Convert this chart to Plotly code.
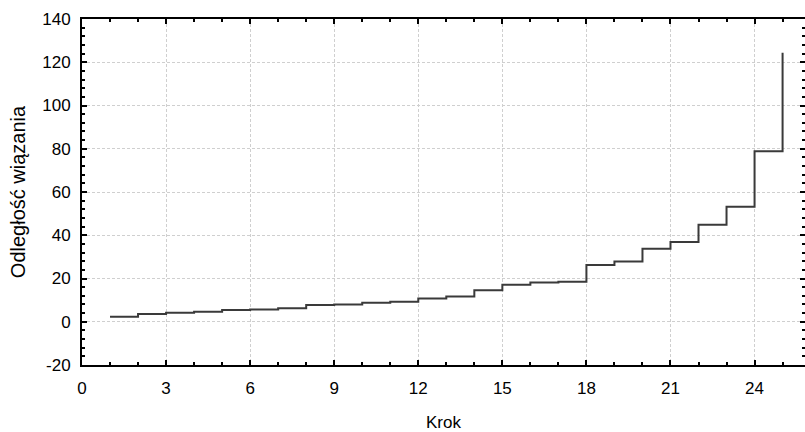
import plotly.graph_objects as go

steps = list(range(1, 26))
distances = [2.3, 3.55, 4.15, 4.6, 5.4, 5.7, 6.2, 7.7, 8.0, 8.8, 9.2, 10.8, 11.7,
             14.6, 17.1, 18.2, 18.5, 26.2, 27.9, 33.7, 36.9, 44.9, 53.2, 78.9, 124.4]
x_ticks = [0, 3, 6, 9, 12, 15, 18, 21, 24]
y_ticks = [-20, 0, 20, 40, 60, 80, 100, 120, 140]
y_labels = ["-20", "0", "20", "40", "60", "80", "100", "120", "140"]

fig = go.Figure()
fig.add_trace(go.Scatter(
    x=steps, y=distances, mode="lines",
    line=dict(shape="hv", color="#3a3a3a", width=2),
    showlegend=False, hoverinfo="skip",
))

font = dict(family="Liberation Sans, Arial, sans-serif", size=17, color="#000")
common = dict(
    showline=True, linecolor="#000", linewidth=2, mirror="ticks",
    ticks="inside", ticklen=5, tickwidth=2, tickcolor="#000",
    showgrid=True, gridcolor="#cfcfcf", gridwidth=1, griddash="3px,2px",
    zeroline=False, tickfont=font, automargin=False,
)
fig.update_xaxes(range=[0, 25.8], tickmode="array", tickvals=x_ticks,
                 ticklabelstandoff=7,
                 minor=dict(dtick=1, ticks="inside", ticklen=3, tickwidth=1.5, tickcolor="#000", showgrid=False),
                 title=dict(text="Krok", font=font, standoff=22), **common)
fig.update_yaxes(range=[-20, 140], tickmode="array", tickvals=y_ticks, ticktext=y_labels,
                 ticklabelstandoff=6,
                 minor=dict(dtick=4, tick0=0, ticks="inside", ticklen=3, tickwidth=1.5, tickcolor="#000", showgrid=False),
                 title=dict(text="Odległość wiązania", font=dict(family="Liberation Sans, Arial, sans-serif", size=20, color="#000"), standoff=11), **common)

fig.update_layout(
    width=805, height=432,
    margin=dict(l=82, r=0, t=19, b=67),
    plot_bgcolor="white", paper_bgcolor="white",
    font=font,
)
fig.write_html("out.html", config={"displayModeBar": False},
               post_script="document.body.style.margin='0';document.body.style.overflow='hidden';")
